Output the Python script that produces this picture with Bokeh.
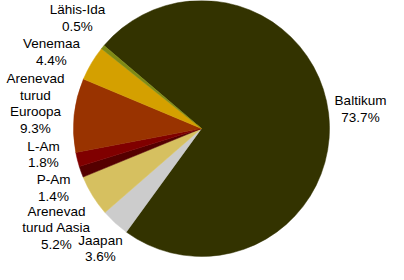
import math
from bokeh.plotting import figure
from bokeh.models import Range1d, ColumnDataSource
from bokeh.core.properties import value
from bokeh.embed import file_html
from bokeh.resources import INLINE

# ---- data (clockwise order, starting with Baltikum) ----
regions = ["Baltikum", "Jaapan", "Arenevad\nturud Aasia", "P-Am", "L-Am",
           "Arenevad\nturud\nEuroopa", "Venemaa", "Lähis-Ida"]
shares = [73.7, 3.6, 5.2, 1.4, 1.8, 9.3, 4.4, 0.5]

# ---- styles / layout ----
colors = ["#333300", "#cccccc", "#d6c060", "#550000", "#800000",
          "#993300", "#d4a000", "#7f8a14"]
label_x = [372, 112, 68, 65, 55, 47, 63, 89]
label_y = [116.5, 256, 235, 195.5, 162, 111, 59.5, 25.5]

H = 280
cx, cy, r = 213, H - 136, 128
start_deg = -49.6  # clockwise from 12 o'clock

total = sum(shares)
starts, ends = [], []
acc = start_deg
for v in shares:
    a0 = acc
    a1 = acc + v / total * 360.0
    # convert clockwise-from-top to bokeh (ccw from +x)
    starts.append(math.radians(90 - a0))
    ends.append(math.radians(90 - a1))
    acc = a1

src = ColumnDataSource(dict(start=starts, end=ends, color=colors))

p = figure(width=388, height=264, output_backend="svg", toolbar_location=None,
           x_range=Range1d(12, 400), y_range=Range1d(H - 272, H - 8),
           x_axis_type=None, y_axis_type=None, min_border=0)
p.grid.visible = False
p.outline_line_color = None
p.background_fill_color = "white"

p.wedge(x=cx, y=cy, radius=r, start_angle="start", end_angle="end",
        direction="clock", fill_color="color", line_color="color",
        line_width=0.5, source=src)

texts = [f"{n}\n{v:.1f}%" for n, v in zip(regions, shares)]
lsrc = ColumnDataSource(dict(x=label_x, y=[H - y for y in label_y], t=texts))
p.text(x="x", y="y", text="t", source=lsrc, text_align="center",
       text_baseline="middle", text_font=value("Liberation Sans"),
       text_font_size="13.5px", text_color="#000000", text_line_height=1.1)

open("out.html", "w").write(file_html(p, INLINE))
